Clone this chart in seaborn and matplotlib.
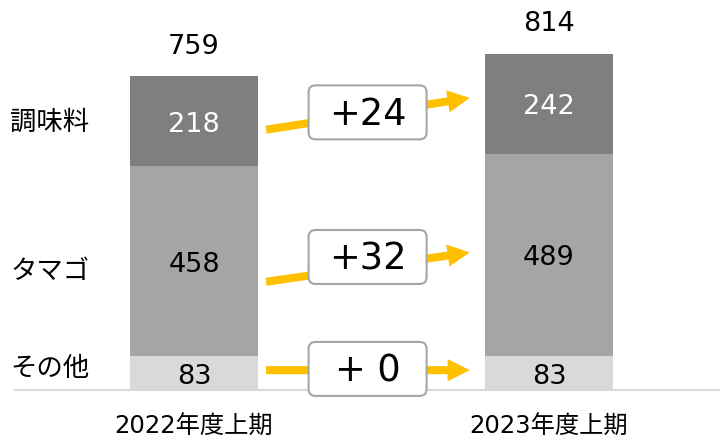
import matplotlib
matplotlib.use("Agg")
import matplotlib.pyplot as plt
import seaborn as sns
import pandas as pd
from matplotlib.patches import FancyBboxPatch
from matplotlib.transforms import IdentityTransform

# ---- data ----
periods = ["2022年度上期", "2023年度上期"]
segments = ["その他", "タマゴ", "調味料"]
other = [83, 83]
egg = [458, 489]
seasoning = [218, 242]
change_labels = ["+ 0", "+32", "+24"]

# ---- styling ----
seg_colors = {"その他": "#d9d9d9", "タマゴ": "#a5a5a5", "調味料": "#7f7f7f"}
seg_text_colors = {"その他": "black", "タマゴ": "black", "調味料": "white"}
arrow_color = "#ffc000"

sns.set_theme(style="white")
plt.rcParams["font.family"] = ["DejaVu Sans", "Noto Sans CJK JP"]

df = pd.DataFrame({
    "period": periods * 3,
    "segment": [s for s in segments for _ in periods],
    "value": other + egg + seasoning,
})
wide = df.pivot(index="period", columns="segment", values="value").loc[periods, segments]
cum = wide.cumsum(axis=1)
totals = cum[segments[-1]]

fig = plt.figure(figsize=(7.2, 4.38), dpi=100)
ax = fig.add_axes([0, 48 / 438, 1, 390 / 438])

# stacked bars drawn as overlapping cumulative bars, tallest first
for seg in reversed(segments):
    sns.barplot(x=periods, y=cum[seg].values, order=periods, color=seg_colors[seg],
                saturation=1, width=0.36, errorbar=None, edgecolor="none",
                linewidth=0, ax=ax)

ax.set_xlim(-0.5465, 1.4817)
ax.set_ylim(0, 944)
ax.axis("off")
ax.axhline(0, xmin=15 / 720, xmax=1, color="#d9d9d9", lw=1.5, clip_on=False)

# segment value labels
for i, p in enumerate(periods):
    lower = 0
    for seg in segments:
        v = wide.loc[p, seg]
        ax.text(i, lower + v / 2 - 9, f"{v}", ha="center", va="center", fontsize=19.5,
                color=seg_text_colors[seg])
        lower += v
    ax.text(i, totals[p] + 72, f"{totals[p]}", ha="center", va="center",
            fontsize=19.5, color="black")
    ax.text(i, -90, p, ha="center", va="center", fontsize=17.5, color="black",
            clip_on=False)

# segment names at left
name_y = [52, 285, 646]
for seg, y in zip(segments, name_y):
    ax.text(-0.4056, y, seg, ha="center", va="center", fontsize=19, color="black")

# change arrows with boxed labels
arrow_x = (0.203, 0.777)
arrow_y = [(48, 48), (262, 333), (630, 707)]
box_y = [51, 322, 672]
box_x = 0.489
box_w, box_h = 118, 54

for (y0, y1), by, lab in zip(arrow_y, box_y, change_labels):
    ax.annotate("", xy=(arrow_x[1], y1), xytext=(arrow_x[0], y0),
                arrowprops=dict(arrowstyle="simple,head_length=1.6,head_width=1.6,tail_width=0.58",
                                mutation_scale=10, color=arrow_color, lw=0,
                                shrinkA=0, shrinkB=0), zorder=3)
    cx, cy = ax.transData.transform((box_x, by))
    box = FancyBboxPatch((cx - box_w / 2, cy - box_h / 2), box_w, box_h,
                         boxstyle="round,pad=0,rounding_size=7",
                         transform=IdentityTransform(), facecolor="white",
                         edgecolor="#a6a6a6", lw=1.5, zorder=5, clip_on=False)
    ax.add_patch(box)
    ax.text(box_x, by - 6, lab, ha="center", va="center", fontsize=26.5,
            color="black", zorder=6)

fig.savefig("out.png", dpi=100)
